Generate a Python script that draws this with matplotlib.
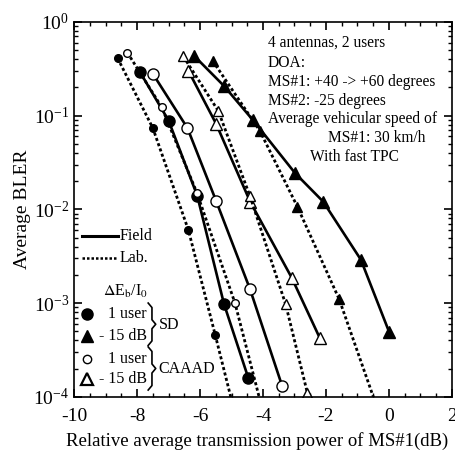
import matplotlib
matplotlib.use('Agg')
import matplotlib.pyplot as plt
from matplotlib.ticker import MultipleLocator, LogLocator, NullFormatter

plt.rcParams['font.family'] = 'Liberation Serif'
plt.rcParams['mathtext.fontset'] = 'stix'
plt.rcParams['axes.unicode_minus'] = False

# SD, 1 user
sd1_field_x = [-7.90, -7.00, -6.09, -5.24, -4.47]
sd1_field_y = [0.288, 0.0885, 0.0140, 0.00098, 0.00016]
sd1_lab_x = [-8.62, -7.50, -6.37, -5.52, -4.80]
sd1_lab_y = [0.41, 0.0735, 0.0060, 0.00046, 0.00005]

# SD, -15 dB
sd15_field_x = [-6.19, -5.24, -4.31, -2.98, -2.09, -0.89, 0.01]
sd15_field_y = [0.434, 0.207, 0.0886, 0.0243, 0.0121, 0.0029, 0.00049]
sd15_lab_x = [-5.60, -4.10, -2.91, -1.58, -0.30]
sd15_lab_y = [0.384, 0.0687, 0.0107, 0.0011, 0.000065]

# CAAAD, 1 user
ca1_field_x = [-7.50, -6.40, -5.49, -4.41, -3.39]
ca1_field_y = [0.279, 0.0735, 0.0123, 0.0014, 0.00013]
ca1_lab_x = [-8.31, -7.22, -6.10, -4.89, -3.90]
ca1_lab_y = [0.47, 0.123, 0.0150, 0.0010, 0.000051]

# CAAAD, -15 dB
ca15_field_x = [-6.37, -5.49, -4.41, -3.09, -2.19]
ca15_field_y = [0.30, 0.0817, 0.0121, 0.00187, 0.00042]
ca15_lab_x = [-6.53, -5.42, -4.41, -3.28, -2.59]
ca15_lab_y = [0.427, 0.112, 0.0137, 0.00097, 0.00011]

notes = ['4 antennas, 2 users', 'DOA:', 'MS#1: +40 -> +60 degrees',
         'MS#2: -25 degrees', 'Average vehicular speed of']

fig = plt.figure(figsize=(4.55, 4.54), dpi=100)
ax = fig.add_axes([0.163, 0.126, 0.830, 0.826])

dot = (0, (1.1, 0.9))
big = dict(color='black', linewidth=1.9, linestyle='-')
small = dict(color='black', linewidth=2.0, linestyle=dot)

ax.plot(sd1_field_x, sd1_field_y, marker='o', markersize=8, markerfacecolor='black', **big)
ax.plot(sd1_lab_x, sd1_lab_y, marker='o', markersize=5.5, markerfacecolor='black', **small)
ax.plot(sd15_field_x, sd15_field_y, marker='^', markersize=9, markerfacecolor='black', **big)
ax.plot(sd15_lab_x, sd15_lab_y, marker='^', markersize=6.5, markerfacecolor='black', **small)
ax.plot(ca1_field_x, ca1_field_y, marker='o', markersize=8, markerfacecolor='white',
        markeredgewidth=1.0, **big)
ax.plot(ca1_lab_x, ca1_lab_y, marker='o', markersize=5.5, markerfacecolor='white',
        markeredgewidth=1.0, **small)
ax.plot(ca15_field_x, ca15_field_y, marker='^', markersize=9, markerfacecolor='white',
        markeredgewidth=1.0, **big)
ax.plot(ca15_lab_x, ca15_lab_y, marker='^', markersize=6.5, markerfacecolor='white',
        markeredgewidth=1.0, **small)

ax.set_xlim(-10, 2)
ax.set_ylim(1e-4, 1)
ax.set_yscale('log')
ax.xaxis.set_major_locator(MultipleLocator(2))
ax.xaxis.set_minor_locator(MultipleLocator(0.5))
ax.yaxis.set_major_locator(LogLocator(base=10, numticks=10))
ax.yaxis.set_minor_locator(LogLocator(base=10, subs=range(2, 10), numticks=10))
ax.yaxis.set_minor_formatter(NullFormatter())
ax.tick_params(which='both', direction='in', top=True, right=True, labelsize=14)
ax.tick_params(which='major', length=6, width=1.2)
ax.tick_params(which='minor', length=3, width=1.0)
ax.tick_params(axis='x', which='major', pad=8)
for s in ax.spines.values():
    s.set_linewidth(1.2)

ax.set_xlabel('Relative average transmission power of MS#1(dB)', fontsize=13.5)
ax.xaxis.set_label_coords(0.485, -0.095)
ax.set_ylabel('Average BLER', fontsize=14, labelpad=2)

# annotation block
tf = dict(transform=ax.transAxes, fontsize=11.2, ha='left', va='center')
ys = [0.944, 0.891, 0.840, 0.789, 0.741]
for t, yy in zip(notes, ys):
    ax.text(0.513, yy, t, **tf)
ax.text(0.672, 0.690, 'MS#1: 30 km/h', **tf)
ax.text(0.624, 0.640, 'With fast TPC', **tf)

# legend: line styles
ax.plot([0.021, 0.116], [0.429, 0.429], transform=ax.transAxes, color='black', linewidth=2.2)
ax.plot([0.021, 0.116], [0.371, 0.371], transform=ax.transAxes, color='black',
        linewidth=1.8, linestyle=(0, (1, 0.8)))
lf = dict(transform=ax.transAxes, fontsize=11.5, va='center')
ax.text(0.120, 0.429, 'Field', ha='left', **lf)
ax.text(0.120, 0.371, 'Lab.', ha='left', **lf)
ax.text(0.135, 0.281, r'$\Delta$E$_{\mathrm{b}}$/I$_0$', ha='center', **lf)

# legend: markers
mk = dict(transform=ax.transAxes, color='black', linestyle='none')
ax.plot([0.034], [0.221], marker='o', markersize=8, markerfacecolor='black', **mk)
ax.plot([0.034], [0.163], marker='^', markersize=8, markerfacecolor='black', **mk)
ax.plot([0.034], [0.101], marker='o', markersize=6, markerfacecolor='white', **mk)
ax.plot([0.034], [0.048], marker='^', markersize=8, markerfacecolor='white',
        markeredgewidth=1.6, **mk)
ax.text(0.193, 0.221, '1 user', ha='right', **lf)
ax.text(0.193, 0.163, '- 15 dB', ha='right', **lf)
ax.text(0.193, 0.101, '1 user', ha='right', **lf)
ax.text(0.193, 0.048, '- 15 dB', ha='right', **lf)


def brace(x0, ytop, ybot):
    d = 0.010
    e = 0.012
    ym = (ytop + ybot) / 2
    xs = [x0, x0 + d, x0 + d, x0 + 2 * d, x0 + d, x0 + d, x0]
    yv = [ytop, ytop - e, ym + e, ym, ym - e, ybot + e, ybot]
    ax.plot(xs, yv, transform=ax.transAxes, color='black', linewidth=1.2)


brace(0.196, 0.250, 0.137)
brace(0.196, 0.133, 0.018)
ax.text(0.223, 0.192, 'SD', ha='left', **lf)
ax.text(0.223, 0.075, 'CAAAD', ha='left', **lf)

fig.savefig('out.png', dpi=100)
